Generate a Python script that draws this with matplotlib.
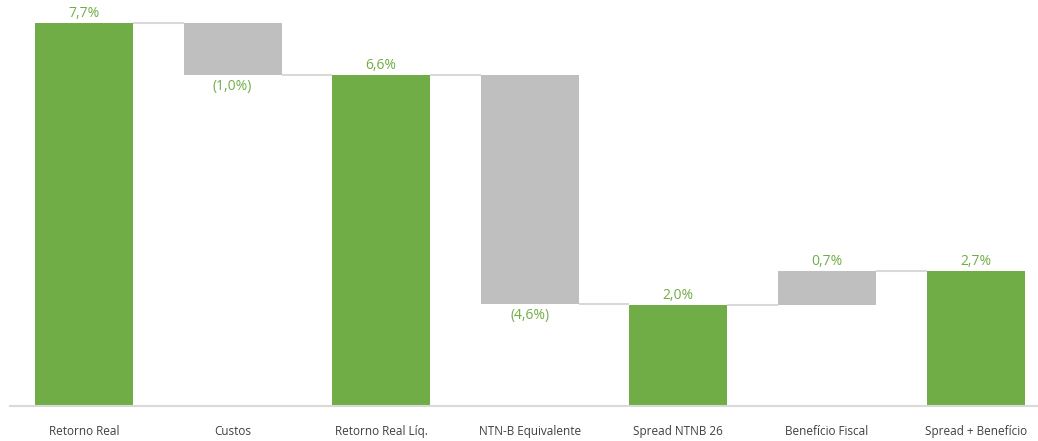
import matplotlib.pyplot as plt

# Data
categories = ["Retorno Real", "Custos", "Retorno Real Líq.", "NTN-B Equivalente",
              "Spread NTNB 26", "Benefício Fiscal", "Spread + Benefício"]
values = [7.7, -1.04, 6.65, -4.6, 2.03, 0.69, 2.72]
is_total = [True, False, True, False, True, False, True]
labels = ["7,7%", "(1,0%)", "6,6%", "(4,6%)", "2,0%", "0,7%", "2,7%"]

green = "#70AD47"
gray = "#BFBFBF"
line_gray = "#D9D9D9"

plt.rcParams['font.family'] = ['Open Sans', 'DejaVu Sans']

fig = plt.figure(figsize=(10.38, 4.41), dpi=100)
ax = fig.add_axes([9.7 / 1038, 35 / 441, 1028.3 / 1038, 402.6 / 441])

width = 0.66
level = 0.0
ends = []
for i, (v, tot, lab) in enumerate(zip(values, is_total, labels)):
    if tot:
        bottom, top = 0.0, v
        level = v
        color = green
    else:
        start = level
        level = level + v
        bottom, top = min(start, level), max(start, level)
        color = gray
    ax.bar(i, top - bottom, bottom=bottom, width=width, color=color, zorder=2)
    ends.append(level)
    if v >= 0:
        ax.annotate(lab, (i, top), xytext=(0, 1.5), textcoords="offset points",
                    ha="center", va="bottom", color=green, fontsize=10)
    else:
        ax.annotate(lab, (i, bottom), xytext=(0, -3), textcoords="offset points",
                    ha="center", va="top", color=green, fontsize=10)

# connectors
for i in range(len(values) - 1):
    ax.plot([i + width / 2, i + 1 - width / 2], [ends[i], ends[i]],
            color=line_gray, lw=1.5, zorder=1, solid_capstyle="butt")

ax.set_xlim(-0.5, 6.42)
ax.set_ylim(0, 8.1)
ax.set_xticks(range(len(categories)))
ax.set_xticklabels(categories, fontsize=8.5, color="#404040")
ax.tick_params(axis="x", length=0, pad=14)
ax.set_yticks([])
for s in ["top", "left", "right"]:
    ax.spines[s].set_visible(False)
ax.spines["bottom"].set_color(line_gray)
ax.spines["bottom"].set_linewidth(1.5)

fig.savefig("out.png", dpi=100)
